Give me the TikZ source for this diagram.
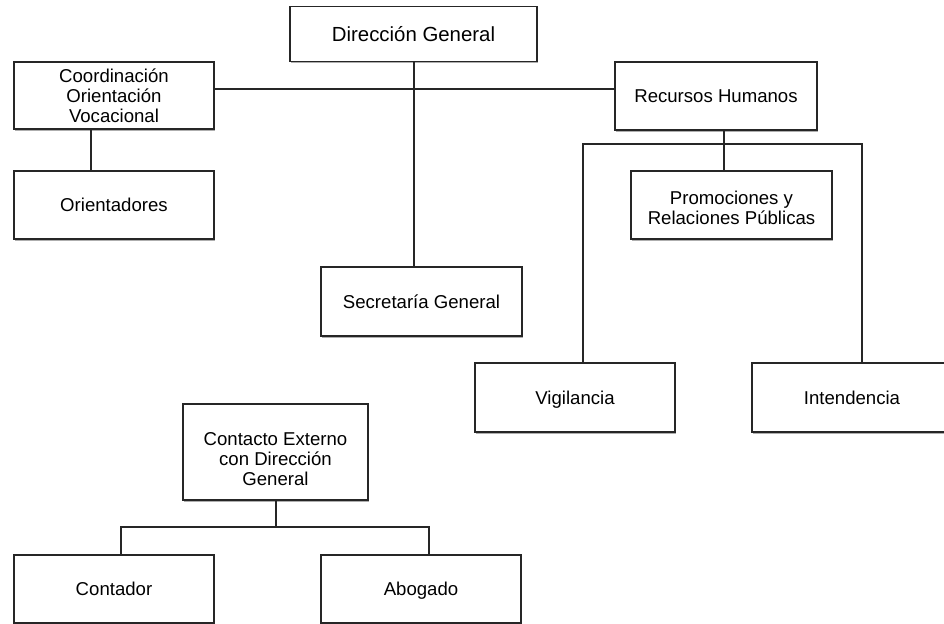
\documentclass[tikz,border=0pt]{standalone}
\usepackage{fontspec}
\setmainfont{Liberation Sans}
\usetikzlibrary{shadows}

\tikzset{
  caja/.style={draw=black!85, rectangle, fill=white, line width=0.6pt, inner sep=0pt,
    align=center, font=\fontsize{9.3}{9.9}\selectfont,
    drop shadow={shadow xshift=0.5pt, shadow yshift=-0.8pt, fill=black!45, opacity=0.7}},
  simple/.style={caja, text height=8.66pt, text depth=2pt}
}
\tikzset{linea/.style={draw=black!85, line width=0.65pt}}

\begin{document}
\begin{tikzpicture}[x=0.5pt, y=-0.5pt]
  \useasboundingbox (0,0) rectangle (944,623);
  \clip (0,0) rectangle (944,623);

  \node[simple, minimum width=123.5pt, minimum height=27.5pt, text height=9.3pt, font=\fontsize{10.2}{11}\selectfont] (0) at (413.5,34) {Dirección General};
  \node[caja, minimum width=100pt, minimum height=33.5pt] (1) at (114,95.5) {Coordinación\\Orientación\\Vocacional};
  \node[simple, minimum width=101pt, minimum height=34pt] (2) at (716,96) {Recursos Humanos};
  \node[simple, minimum width=100.5pt, minimum height=34.5pt] (3) at (421.5,301.5) {Secretaría General};
  \node[simple, minimum width=100pt, minimum height=34pt] (4) at (114,205) {Orientadores};
  \node[caja, minimum width=100.5pt, minimum height=34pt] (5) at (731.5,205) {\rule{0pt}{9.2pt}Promociones y\\Relaciones Públicas};
  \node[simple, minimum width=100pt, minimum height=34.5pt] (6) at (575,397.5) {Vigilancia};
  \node[simple, minimum width=100pt, minimum height=34.5pt] (7) at (852,397.5) {Intendencia};
  \node[caja, minimum width=92.5pt, minimum height=48pt] (8) at (275.5,452) {\rule{0pt}{13.7pt}Contacto Externo\\con Dirección\\General};
  \node[simple, minimum width=100pt, minimum height=34pt] (9) at (114,589) {Contador};
  \node[simple, minimum width=100pt, minimum height=34pt] (10) at (421,589) {Abogado};

  % puntos de unión de las líneas
  \coordinate (a) at (414,89);
  \coordinate (b) at (91,0);
  \coordinate (c) at (724,144);
  \coordinate (c1) at (583,144);
  \coordinate (c2) at (862,144);
  \coordinate (d) at (276,527);
  \coordinate (d1) at (121,527);
  \coordinate (d2) at (429,527);

  \draw[linea] (0.south -| a) -- (3.north -| a);
  \draw[linea] (1.east |- a) -- (2.west |- a);
  \draw[linea] (1.south -| b) -- (4.north -| b);
  \draw[linea] (2.south -| c) -- (5.north -| c);
  \draw[linea] (6.north -| c1) -- (c1) -- (c2) -- (7.north -| c2);
  \draw[linea] (8.south -| d) -- (d);
  \draw[linea] (9.north -| d1) -- (d1) -- (d2) -- (10.north -| d2);
\end{tikzpicture}
\end{document}
